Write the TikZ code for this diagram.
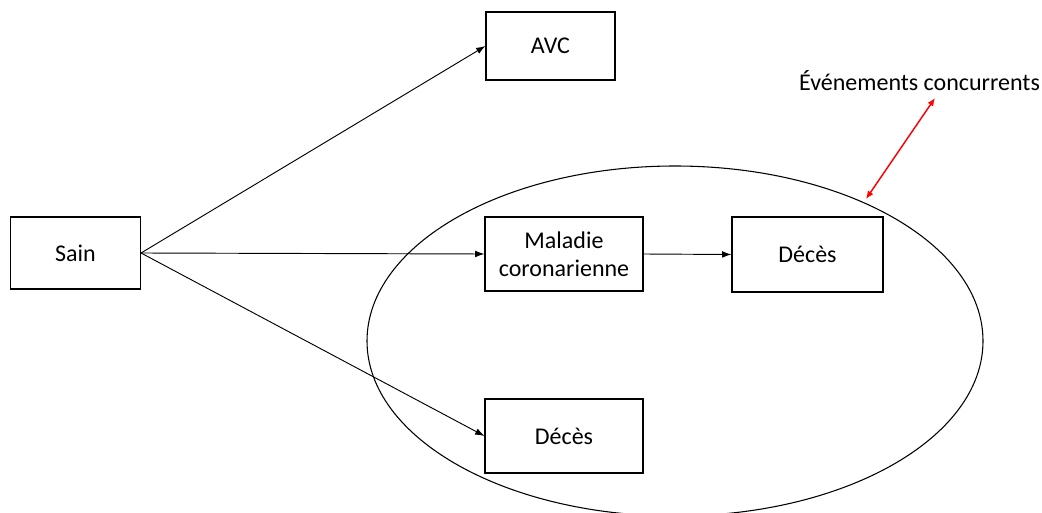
\documentclass[tikz,border=0pt]{standalone}
\usepackage{fontspec}
\setmainfont{Carlito}
\usetikzlibrary{arrows.meta}
\begin{document}
\begin{tikzpicture}[x=0.75pt,y=-0.75pt,
  box/.style={draw, line width=0.8pt, minimum width=#1, inner sep=0pt, font=\fontsize{18}{21}\selectfont, align=center},
  conn/.style={-{Latex[length=7pt,width=5pt]}, line width=0.7pt},
  redarrow/.style={{Latex[length=6pt,width=5pt]}-{Latex[length=6pt,width=5pt]}, red, line width=1.1pt}]
\useasboundingbox (0,0) rectangle (1042,513);
\begin{scope}
\clip (0,0) rectangle (1042,513);
\draw[line width=0.8pt] (675,341) ellipse [x radius=308, y radius=175];
\end{scope}
\node[box=97.5pt, minimum height=54pt] (sain) at (75.5,253) {Sain};
\node[box=96.75pt, minimum height=51pt] (avc) at (550.5,46) {AVC};
\node[box=118.5pt, minimum height=55.5pt] (mal) at (564,254) {Maladie\\coronarienne};
\node[box=113.25pt, minimum height=56.25pt] (dec1) at (807.5,254.5) {Décès};
\node[box=118.5pt, minimum height=55.5pt] (dec2) at (564,436) {Décès};
\node[font=\fontsize{18}{20}\selectfont, inner sep=0pt] (lab) at (919.5,81) {Événements concurrents};
\coordinate (ra) at (866,199);
\coordinate (rb) at (935,98);
\draw[conn] (sain.east) -- (avc.west);
\draw[conn] (sain.east) -- (mal.west);
\draw[conn] (sain.east) -- (dec2.west);
\draw[conn] (mal.east) -- (dec1.west);
\draw[redarrow] (ra) -- (rb);
\end{tikzpicture}
\end{document}
